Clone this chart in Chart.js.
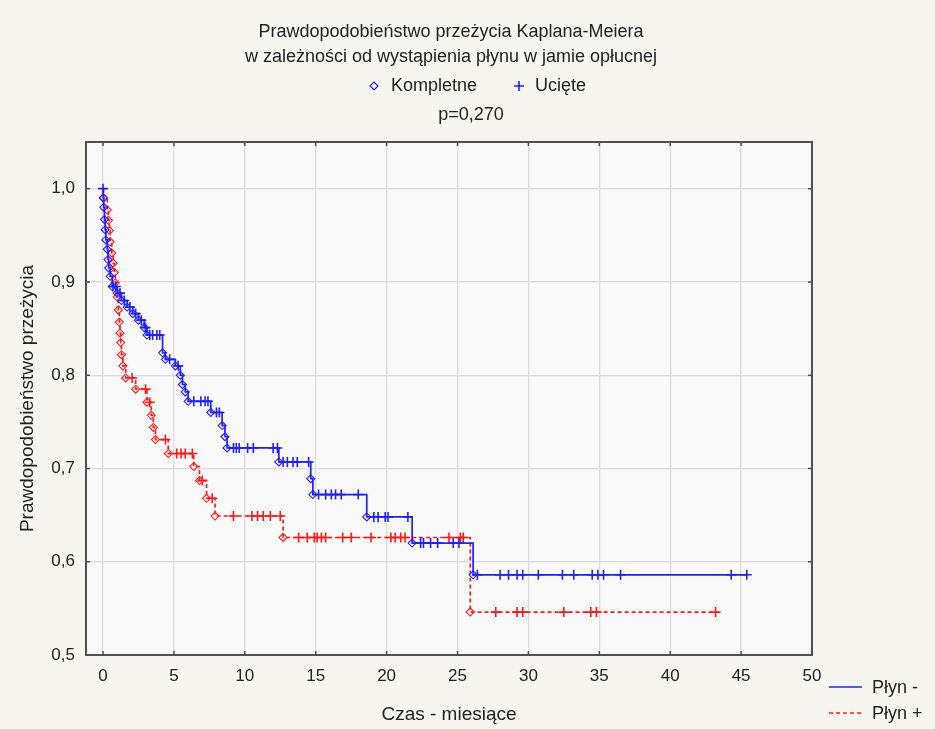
<!DOCTYPE html>
<html>
<head>
<meta charset="utf-8">
<script src="https://cdn.jsdelivr.net/npm/chart.js@4.4.1/dist/chart.umd.min.js"></script>
<style>
  html, body { margin: 0; padding: 0; background: #f6f5f0; }
</style>
</head>
<body>
<canvas id="myChart" width="935" height="729"></canvas>
<script>
// tick values
const xTicks = [0, 5, 10, 15, 20, 25, 30, 35, 40, 45, 50];
const yTicks = [0.5, 0.6, 0.7, 0.8, 0.9, 1.0];

// Płyn -  (blue): event times / survival after event, censored times
const minusEventT = [0.02, 0.05, 0.1, 0.15, 0.2, 0.3, 0.35, 0.4, 0.5, 0.65, 1.0, 1.3, 1.7, 2.1, 2.5, 2.9, 3.1,
  4.2, 4.4, 5.1, 5.45, 5.6, 5.8, 6.0, 7.6, 8.4, 8.6, 8.75, 12.4, 14.65, 14.8, 18.6, 21.8, 26.1];
const minusEventS = [0.99, 0.98, 0.967, 0.956, 0.945, 0.935, 0.924, 0.915, 0.906, 0.895, 0.888, 0.880, 0.873, 0.866, 0.859, 0.851, 0.843,
  0.824, 0.817, 0.810, 0.800, 0.790, 0.782, 0.772, 0.760, 0.746, 0.734, 0.722, 0.707, 0.689, 0.672, 0.648, 0.620, 0.586];
const minusCensT = [0.0, 0.7, 0.9, 1.2, 1.5, 1.9, 2.3, 2.7, 3.0, 3.3, 3.5, 3.8, 4.0, 4.7, 5.3, 6.4, 6.9, 7.2, 7.4, 8.0, 8.2,
  9.2, 9.4, 9.6, 10.2, 10.6, 12.0, 12.3, 12.7, 13.0, 13.4, 13.7, 14.5, 15.2, 15.7, 16.1, 16.4, 16.8, 18.0,
  19.1, 19.4, 19.9, 20.1, 21.5, 22.4, 22.6, 23.1, 23.6, 24.7, 25.1, 26.4, 28.0, 28.6, 29.2, 29.6, 30.7,
  32.4, 33.2, 34.5, 34.9, 35.3, 36.5, 44.3, 45.4];

// Płyn +  (red)
const plusEventT = [0.03, 0.3, 0.38, 0.45, 0.5, 0.62, 0.72, 0.8, 0.87, 1.0, 1.08, 1.15, 1.2, 1.25, 1.3, 1.4, 1.6,
  2.3, 3.1, 3.4, 3.55, 3.7, 4.6, 6.4, 6.8, 7.3, 7.9, 12.7, 25.9];
const plusEventS = [0.99, 0.977, 0.966, 0.955, 0.943, 0.931, 0.920, 0.910, 0.899, 0.884, 0.870, 0.857, 0.845, 0.835, 0.822, 0.810, 0.797,
  0.785, 0.771, 0.757, 0.744, 0.731, 0.716, 0.702, 0.687, 0.668, 0.649, 0.626, 0.546];
const plusCensT = [2.05, 3.0, 3.3, 4.4, 5.2, 5.5, 5.8, 6.3, 7.0, 7.7, 9.2, 10.5, 10.9, 11.3, 11.8, 12.5,
  13.8, 14.4, 14.9, 15.1, 15.4, 15.7, 16.9, 17.5, 18.9, 20.3, 20.6, 21.0, 21.3, 24.4, 25.2, 25.4,
  27.7, 29.2, 29.6, 32.5, 34.4, 34.8, 43.2];

const blue = '#1f1fff';
const red = '#ff1a1a';
const FONT = '"Liberation Sans", Arial, sans-serif';

function survivalAt(eT, eS, t) {
  let s = 1;
  for (let i = 0; i < eT.length; i++) {
    if (eT[i] <= t) s = eS[i];
  }
  return s;
}

function curve(eT, eS, endT) {
  let pts = [{x: 0, y: 1}];
  for (let i = 0; i < eT.length; i++) pts.push({x: eT[i], y: eS[i]});
  pts.push({x: endT, y: eS[eS.length - 1]});
  return pts;
}

function events(eT, eS) {
  return eT.map((t, i) => ({x: t, y: eS[i]}));
}

function censored(cT, eT, eS) {
  return cT.map(t => ({x: t, y: survivalAt(eT, eS, t)}));
}

const frame = {
  id: 'frame',
  beforeDraw(chart) {
    const ctx = chart.ctx, a = chart.chartArea;
    ctx.save();
    ctx.fillStyle = '#f6f5f0';
    ctx.fillRect(0, 0, chart.width, chart.height);
    ctx.fillStyle = '#f9f9f9';
    ctx.fillRect(a.left, a.top, a.right - a.left, a.bottom - a.top);
    ctx.restore();
  },
  afterDraw(chart) {
    const ctx = chart.ctx, a = chart.chartArea;
    const xs = chart.scales.x, ys = chart.scales.y;
    ctx.save();
    // frame
    ctx.strokeStyle = '#505050';
    ctx.lineWidth = 2;
    ctx.strokeRect(a.left, a.top, a.right - a.left, a.bottom - a.top);
    // inner ticks
    ctx.lineWidth = 1.5;
    ctx.beginPath();
    xTicks.forEach(v => {
      let px = xs.getPixelForValue(v);
      ctx.moveTo(px, a.bottom); ctx.lineTo(px, a.bottom - 4);
      ctx.moveTo(px, a.top); ctx.lineTo(px, a.top + 4);
    });
    yTicks.forEach(v => {
      let py = ys.getPixelForValue(v);
      ctx.moveTo(a.left, py); ctx.lineTo(a.left + 4, py);
      ctx.moveTo(a.right, py); ctx.lineTo(a.right - 4, py);
    });
    ctx.stroke();

    // titles
    ctx.fillStyle = '#222222';
    ctx.font = '18px ' + FONT;
    ctx.textAlign = 'center';
    ctx.textBaseline = 'middle';
    ctx.fillText('Prawdopodobieństwo przeżycia Kaplana-Meiera', 451, 32);
    ctx.fillText('w zależności od wystąpienia płynu w jamie opłucnej', 451, 57);
    ctx.fillText('p=0,270', 471, 115);

    // top legend
    ctx.textAlign = 'left';
    ctx.fillText('Kompletne', 391, 86);
    ctx.fillText('Ucięte', 535, 86);
    ctx.fillStyle = 'rgba(0,0,0,0)';
    ctx.strokeStyle = blue;
    ctx.lineWidth = 1.2;
    Chart.helpers.drawPoint(ctx, {pointStyle: 'rectRot', radius: 4, borderWidth: 1.2}, 374, 86);
    ctx.lineWidth = 1.6;
    Chart.helpers.drawPoint(ctx, {pointStyle: 'cross', radius: 5, borderWidth: 1.6}, 519, 86);

    // bottom-right legend
    ctx.lineWidth = 1.5;
    ctx.strokeStyle = blue;
    ctx.beginPath(); ctx.moveTo(829, 687); ctx.lineTo(862, 687); ctx.stroke();
    ctx.strokeStyle = red;
    ctx.setLineDash([4, 3]);
    ctx.beginPath(); ctx.moveTo(829, 713); ctx.lineTo(862, 713); ctx.stroke();
    ctx.setLineDash([]);
    ctx.fillStyle = '#222222';
    ctx.fillText('Płyn -', 872, 688);
    ctx.fillText('Płyn +', 872, 714);
    ctx.restore();
  }
};

const ctx = document.getElementById('myChart');

new Chart(ctx, {
  type: 'scatter',
  data: {
    datasets: [
      {label: 'Płyn - kompletne', data: events(minusEventT, minusEventS), pointStyle: 'rectRot',
        pointRadius: 4, borderColor: blue, backgroundColor: 'rgba(0,0,0,0)', borderWidth: 1.1},
      {label: 'Płyn - ucięte', data: censored(minusCensT, minusEventT, minusEventS), pointStyle: 'cross',
        pointRadius: 5, borderColor: blue, borderWidth: 1.6},
      {label: 'Płyn -', data: curve(minusEventT, minusEventS, minusCensT[minusCensT.length - 1]),
        showLine: true, stepped: true, pointRadius: 0, borderColor: blue, borderWidth: 1.7},
      {label: 'Płyn + kompletne', data: events(plusEventT, plusEventS), pointStyle: 'rectRot',
        pointRadius: 4, borderColor: red, backgroundColor: 'rgba(0,0,0,0)', borderWidth: 1.1},
      {label: 'Płyn + ucięte', data: censored(plusCensT, plusEventT, plusEventS), pointStyle: 'cross',
        pointRadius: 5, borderColor: red, borderWidth: 1.6},
      {label: 'Płyn +', data: curve(plusEventT, plusEventS, plusCensT[plusCensT.length - 1]),
        showLine: true, stepped: true, pointRadius: 0, borderColor: red, borderWidth: 1.7, borderDash: [4, 3]}
    ]
  },
  options: {
    responsive: false,
    animation: false,
    layout: {padding: {left: 0, right: 123, top: 142, bottom: 0}},
    plugins: {
      legend: {display: false},
      title: {display: false},
      tooltip: {enabled: false}
    },
    scales: {
      x: {
        type: 'linear',
        min: -1.2,
        max: 50,
        afterBuildTicks: s => { s.ticks = xTicks.map(v => ({value: v})); },
        afterFit: s => { s.height = 74; },
        grid: {color: '#dcdcdc', lineWidth: 1.3, drawTicks: false},
        border: {display: false},
        ticks: {padding: 11, color: '#222222', font: {family: FONT, size: 17},
          maxRotation: 0, callback: v => String(v)},
        title: {display: true, text: 'Czas - miesiące', color: '#222222',
          font: {family: FONT, size: 19}, padding: {top: 3, bottom: 3}}
      },
      y: {
        type: 'linear',
        min: 0.5,
        max: 1.05,
        afterBuildTicks: s => { s.ticks = yTicks.map(v => ({value: v})); },
        afterFit: s => { s.width = 86; },
        grid: {color: '#dcdcdc', lineWidth: 1.3, drawTicks: false},
        border: {display: false},
        ticks: {padding: 11, color: '#222222', font: {family: FONT, size: 17},
          callback: v => v.toFixed(1).replace('.', ',')},
        title: {display: true, text: 'Prawdopodobieństwo przeżycia', color: '#222222',
          font: {family: FONT, size: 19}, padding: {top: 16, bottom: 16}}
      }
    }
  },
  plugins: [frame]
});
</script>
</body>
</html>
